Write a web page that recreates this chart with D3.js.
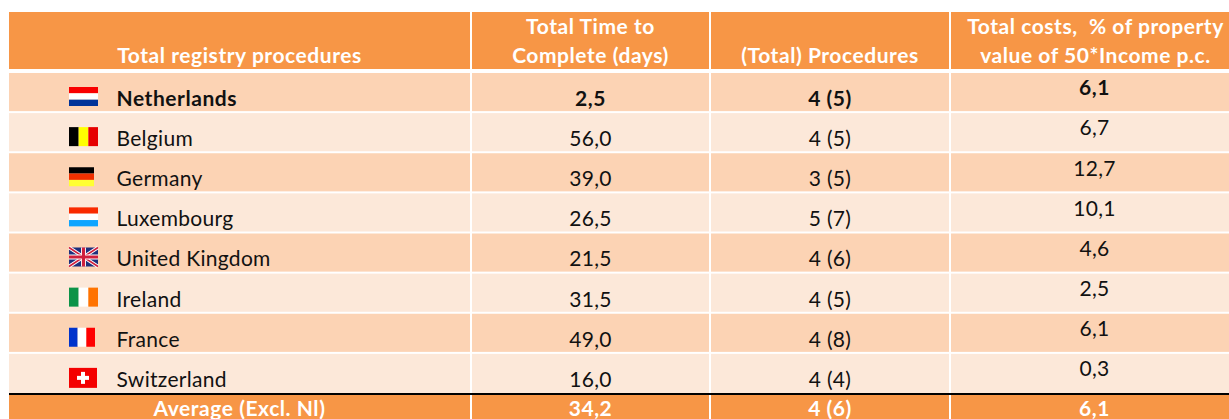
<!DOCTYPE html>
<html>
<head>
<meta charset="utf-8">
<script src="https://cdn.jsdelivr.net/npm/d3@7"></script>
<style>
  html, body { margin: 0; padding: 0; background: #fff; overflow: hidden; }
  text { font-family: Lato, sans-serif; font-size: 21px; letter-spacing: 0.3px; }
  text.bold { font-weight: 700; letter-spacing: 0.55px; }
</style>
</head>
<body>
<div id="table"></div>
<script>
// table contents
const countries = ["Netherlands", "Belgium", "Germany", "Luxembourg", "United Kingdom", "Ireland", "France", "Switzerland"];
const days = ["2,5", "56,0", "39,0", "26,5", "21,5", "31,5", "49,0", "16,0"];
const procedures = ["4 (5)", "4 (5)", "3 (5)", "5 (7)", "4 (6)", "4 (5)", "4 (8)", "4 (4)"];
const costs = ["6,1", "6,7", "12,7", "10,1", "4,6", "2,5", "6,1", "0,3"];
const average = ["Average (Excl. Nl)", "34,2", "4 (6)", "6,1"];
const headers = [
  ["Total registry procedures"],
  ["Total Time to", "Complete (days)"],
  ["(Total) Procedures"],
  ["Total costs,  % of property", "value of 50*Income p.c."]
];

// flag stripes
const flagStripes = {
  Netherlands: {dir: "h", colors: ["#f90000", "#ffffff", "#003399"]},
  Belgium: {dir: "v", colors: ["#000000", "#ffff00", "#e60000"]},
  Germany: {dir: "h", colors: ["#000000", "#f03000", "#ffff33"]},
  Luxembourg: {dir: "h", colors: ["#f92a00", "#ffffff", "#0fa5ff"]},
  Ireland: {dir: "v", colors: ["#0c9348", "#ffffff", "#ff7300"]},
  France: {dir: "v", colors: ["#0033cc", "#ffffff", "#ff0000"]}
};
const flagWidths = {Germany: 25, France: 26, Switzerland: 28};

const W = 1229, H = 419;
const svg = d3.select("#table").append("svg").attr("width", W).attr("height", H).style("display", "block");

// column edges and row bands; the last column runs past the crop
const colEdges = [9, 471, 710, 950, 1238];
const rowY = d3.scaleBand().domain(countries).range([72.5, 393.5]).paddingInner(0);
const rowH = rowY.bandwidth();

const colors = {head: "#f79646", dark: "#fcd3b4", light: "#fce8d9"};

function cellX(i) { return colEdges[i] + (i > 0 ? 1 : 0); }
function cellW(i) { return colEdges[i + 1] - cellX(i) - (i < 3 ? 1 : 0); }
function center(i) { return (cellX(i) + cellX(i) + cellW(i)) / 2; }

// header
const head = svg.append("g");
headers.forEach((lines, i) => {
  head.append("rect").attr("x", cellX(i)).attr("y", 12).attr("width", cellW(i)).attr("height", 57).attr("fill", colors.head);
  lines.forEach((l, j) => {
    head.append("text")
      .attr("class", "bold")
      .attr("x", center(i) + (i === 3 ? 1 : 0))
      .attr("y", 63 - (lines.length - 1 - j) * 29)
      .attr("text-anchor", "middle")
      .attr("fill", "#fff")
      .style("white-space", "pre")
      .text(l);
  });
});

// body rows
const rows = svg.append("g").selectAll("g").data(countries).enter().append("g")
  .attr("transform", d => `translate(0, ${rowY(d)})`);

[0, 1, 2, 3].forEach(i => {
  rows.append("rect")
    .attr("x", cellX(i)).attr("y", 0.5)
    .attr("width", cellW(i))
    .attr("height", (d, r) => r === countries.length - 1 ? rowH : rowH - 2)
    .attr("fill", (d, r) => r % 2 === 0 ? colors.dark : colors.light);
});

const cls = (d, r) => r === 0 ? "bold" : null;

rows.append("text").attr("class", cls).attr("x", 116.5).attr("y", 33.4).attr("fill", "#111").text(d => d);
rows.append("text").attr("class", cls).attr("x", center(1)).attr("y", 33.4).attr("text-anchor", "middle").attr("fill", "#111").text((d, r) => days[r]);
rows.append("text").attr("class", cls).attr("x", center(2)).attr("y", 33.4).attr("text-anchor", "middle").attr("fill", "#111").text((d, r) => procedures[r]);
rows.append("text").attr("class", cls).attr("x", center(3)).attr("y", 22.8).attr("text-anchor", "middle").attr("fill", "#111").text((d, r) => costs[r]);

// flags
const flagH = 19;
const flags = rows.append("g").attr("transform", "translate(69, 14.5)");
flags.each(function(name) {
  const g = d3.select(this);
  const w = flagWidths[name] || 29;
  const stripe = flagStripes[name];
  if (stripe) {
    const band = d3.scaleBand().domain(d3.range(3)).range([0, stripe.dir === "h" ? flagH : w]);
    g.selectAll("rect").data(stripe.colors).enter().append("rect")
      .attr("x", (c, i) => stripe.dir === "v" ? band(i) : 0)
      .attr("y", (c, i) => stripe.dir === "h" ? band(i) : 0)
      .attr("width", stripe.dir === "v" ? band.bandwidth() : w)
      .attr("height", stripe.dir === "h" ? band.bandwidth() : flagH)
      .attr("fill", c => c);
  } else if (name === "Switzerland") {
    g.append("rect").attr("width", w).attr("height", flagH + 1).attr("fill", "#f40000");
    g.append("rect").attr("x", 8).attr("y", 8).attr("width", 12).attr("height", 4).attr("fill", "#fff");
    g.append("rect").attr("x", 12).attr("y", 4).attr("width", 4).attr("height", 12).attr("fill", "#fff");
  } else {
    // union jack
    g.append("rect").attr("width", w).attr("height", flagH).attr("fill", "#1c2f7c");
    g.append("path").attr("d", `M0,0L${w},${flagH}M${w},0L0,${flagH}`).attr("stroke", "#fff").attr("stroke-width", 3.5);
    g.append("path").attr("d", `M0,0L${w},${flagH}M${w},0L0,${flagH}`).attr("stroke", "#cf1f3c").attr("stroke-width", 1.6);
    g.append("path").attr("d", `M${w / 2},0V${flagH}M0,${flagH / 2}H${w}`).attr("stroke", "#fff").attr("stroke-width", 5);
    g.append("path").attr("d", `M${w / 2},0V${flagH}M0,${flagH / 2}H${w}`).attr("stroke", "#cf1f3c").attr("stroke-width", 3.2);
  }
});

// average row
const foot = svg.append("g");
average.forEach((t, i) => {
  foot.append("rect").attr("x", cellX(i)).attr("y", 395).attr("width", cellW(i)).attr("height", H - 395).attr("fill", colors.head);
  foot.append("text").attr("class", "bold").attr("x", center(i)).attr("y", 416).attr("text-anchor", "middle")
    .attr("fill", "#fff").text(t);
});
foot.append("line").attr("x1", 9).attr("x2", W).attr("y1", 394).attr("y2", 394).attr("stroke", "#000").attr("stroke-width", 2);
</script>
</body>
</html>
